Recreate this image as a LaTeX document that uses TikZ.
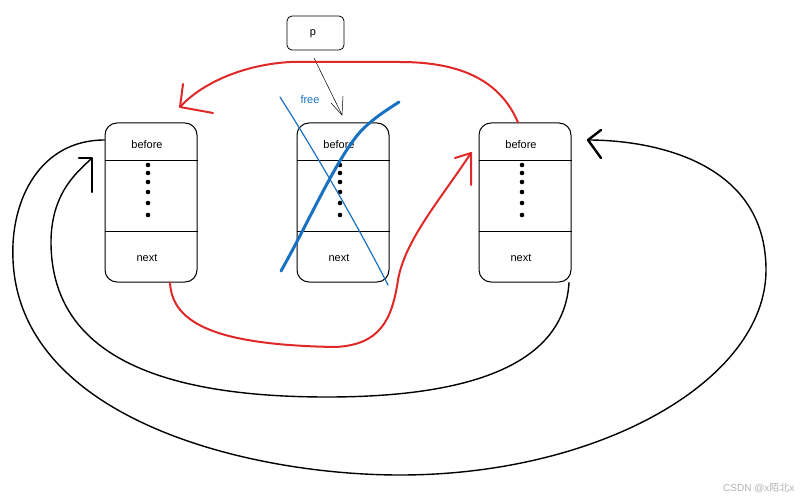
\documentclass[tikz,border=0pt]{standalone}
\usepackage{fontspec}
\setmainfont{Liberation Sans}
\newfontfamily\cjkf{Noto Sans CJK SC}
\begin{document}
\begin{tikzpicture}[x=1pt,y=-1pt,
  box/.style={draw,line width=1pt,rounded corners=12pt,minimum width=92pt,minimum height=159pt,inner sep=0pt},
  lbl/.style={font=\fontsize{11}{13}\selectfont},
  red/.style={draw={rgb,255:red,224;green,40;blue,40},line width=2pt,line cap=round,line join=round},
  blk/.style={draw=black,line width=1.6pt,line cap=round,line join=round},
  blu/.style={draw={rgb,255:red,25;green,113;blue,194},line cap=round}]
\useasboundingbox (0,0) rectangle (800,500);
\foreach \n/\x in {A/151,B/343,C/525}{
  \node[box] (\n) at (\x,202.5) {};
  \draw[line width=1pt] (\n.west|-0,160) -- (\n.east|-0,160);
  \draw[line width=1pt] (\n.west|-0,231) -- (\n.east|-0,231);
  \node[lbl] (\n b) at (\x-4,145) {before};
  \node[lbl] (\n n) at (\x-4,258) {next};
  \foreach \y in {165,173,182,192,203,215} \fill (\x-3,\y) circle (2.3pt);
}
\node[draw,line width=0.8pt,rounded corners=5pt,minimum width=57pt,minimum height=34pt] (P) at (315.5,33) {};
\node[lbl] (Pt) at (313,34) {p};
\coordinate (pt) at (342,115);
\draw[line width=0.5pt] (314,58) -- (pt);
\draw[line width=0.5pt] (pt) -- (331,103) (pt) -- (343,96);
% blue cross
\node[lbl,text={rgb,255:red,25;green,113;blue,194}] (fr) at (310,100) {free};
\draw[blu,line width=1.2pt] (280,97) .. controls (320,160) and (360,230) .. (388,285);
\draw[blu,line width=3pt] (281,271) .. controls (310,220) and (340,150) .. (365,127) .. controls (378,115) and (390,108) .. (399,102);
% red top
\coordinate (t1) at (180,107);
\draw[red] (C.north-|518,0) .. controls (500,80) and (460,62) .. (400,62) -- (290,62) .. controls (240,65) and (200,85) .. (t1);
\draw[red] (183,84) -- (t1) -- (213,113);
% red bottom
\coordinate (t2) at (471,153);
\draw[red] (A.south-|170,0) .. controls (172,325) and (220,345) .. (335,347) .. controls (380,345) and (392,320) .. (398,280) .. controls (405,240) and (440,200) .. (t2);
\draw[red] (455,158) -- (t2) -- (471,185);
% black outer
\coordinate (t3) at (588,140);
\draw[blk,line width=1.4pt] (A.west|-0,140) .. controls (40,140) and (10,200) .. (13,260) .. controls (20,420) and (250,475) .. (400,475) .. controls (600,475) and (766,380) .. (766,270) .. controls (766,160) and (650,140) .. (t3);
\draw[blk,line width=2.4pt] (601,130) -- (t3) -- (601,158);
% black inner
\coordinate (t4) at (92,158);
\draw[blk,line width=1.4pt] (C.south-|569,0) .. controls (565,350) and (500,397) .. (327,397) .. controls (150,397) and (50,350) .. (51,240) .. controls (52,190) and (80,170) .. (t4);
\draw[blk,line width=2.4pt] (79,158) -- (t4) -- (92,192);
\node[text=gray!60,font=\fontsize{10}{12}\selectfont,anchor=south east] (wm) at (798,496) {CSDN @x{\cjkf 陌北}x};
\end{tikzpicture}
\end{document}
